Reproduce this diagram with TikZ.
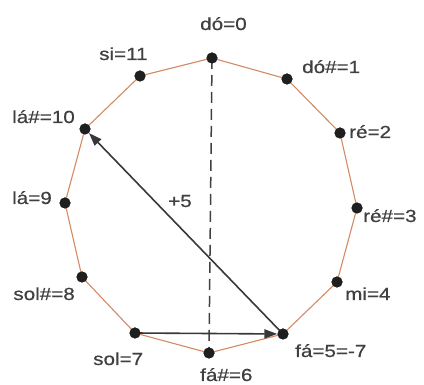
\documentclass[tikz,border=0pt]{standalone}
\usepackage{fontspec}
\setmainfont{Liberation Sans}[FakeStretch=1.18,FakeBold=0.6]
\usetikzlibrary{arrows.meta}
\begin{document}
\begin{tikzpicture}[x=1pt,y=-1pt,
  dot/.style={circle,fill=black!88,inner sep=0pt,minimum size=11pt},
  lbl/.style={font=\fontsize{17.5}{20}\selectfont,text=black!75,inner sep=0pt},
  polyedge/.style={draw={rgb,255:red,212;green,138;blue,98},line width=1.1pt},
  vec/.style={draw=black!78,line width=1.6pt,-{Triangle[length=13pt,width=9pt]}},
  axis/.style={draw=black!75,line width=1.5pt,dash pattern=on 11pt off 6pt}]
\useasboundingbox (0,0) rectangle (424,385);
% vertices
\node[dot] (n0) at (212,58) {};
\node[dot] (n1) at (287,79) {};
\node[dot] (n2) at (340,133) {};
\node[dot] (n3) at (357,208) {};
\node[dot] (n4) at (337,282) {};
\node[dot] (n5) at (283,334) {};
\node[dot] (n6) at (209,353) {};
\node[dot] (n7) at (135,333) {};
\node[dot] (n8) at (82,277) {};
\node[dot] (n9) at (65,203) {};
\node[dot] (n10) at (85,129) {};
\node[dot] (n11) at (140,76) {};
% polygon
\draw[polyedge] (n0.center) -- (n1.center) -- (n2.center) -- (n3.center) -- (n4.center) -- (n5.center) -- (n6.center) -- (n7.center) -- (n8.center) -- (n9.center) -- (n10.center) -- (n11.center) -- cycle;
\draw[axis] (n0.center) -- (n6.center);
\draw[vec] (n5.center) -- (n10);
\draw[vec] (n7.center) -- (n5);
% redraw dots on top
\foreach \i in {0,...,11} {\fill[black!88] (n\i.center) circle (5.5pt);}
% labels
\node[lbl,anchor=base west] (l0) at (200,30) {dó=0};
\node[lbl,anchor=base west] (l1) at (302,73) {dó\#=1};
\node[lbl,anchor=base west] (l2) at (349,138) {ré=2};
\node[lbl,anchor=base west] (l3) at (363,222) {ré\#=3};
\node[lbl,anchor=base west] (l4) at (345,300) {mi=4};
\node[lbl,anchor=base west] (l5) at (295,357) {fá=5=-7};
\node[lbl,anchor=base west] (l6) at (200,381) {fá\#=6};
\node[lbl,anchor=base west] (l7) at (93,365) {sol=7};
\node[lbl,anchor=base east] (l8) at (75,300) {sol\#=8};
\node[lbl,anchor=base east] (l9) at (52,204) {lá=9};
\node[lbl,anchor=base east] (l10) at (75,123) {lá\#=10};
\node[lbl,anchor=base west] (l11) at (99,60) {si=11};
\node[lbl,anchor=base west] (lp) at (168,207) {+5};
\end{tikzpicture}
\end{document}
